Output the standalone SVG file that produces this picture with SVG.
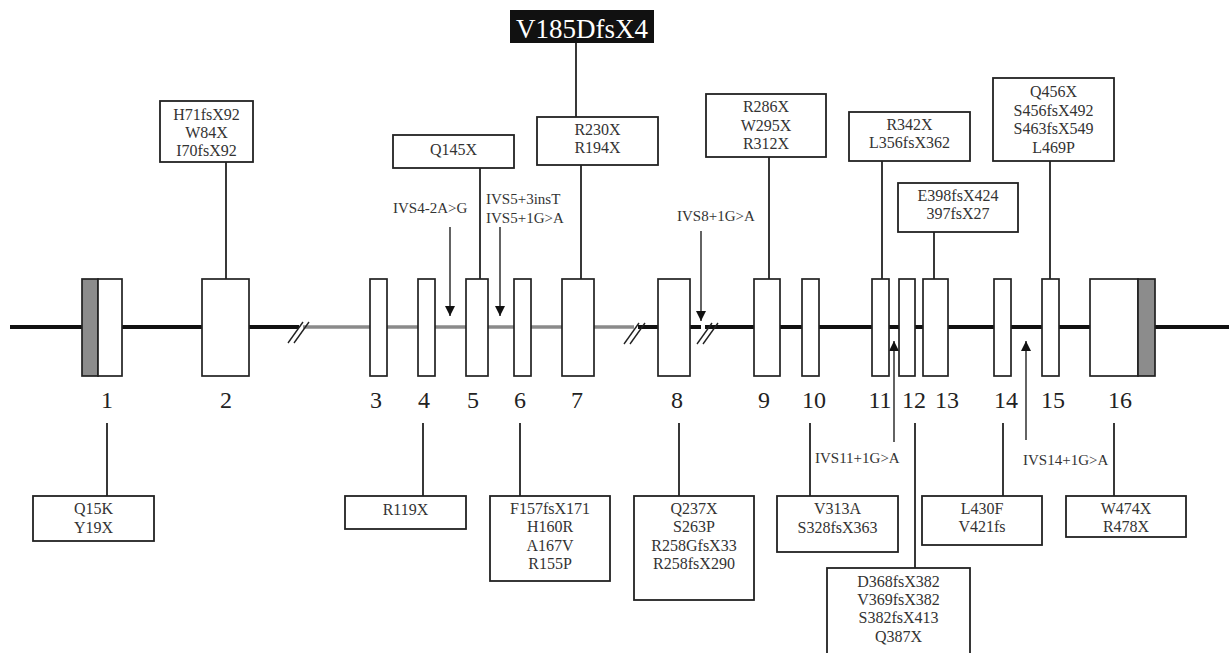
<svg xmlns="http://www.w3.org/2000/svg" width="1229" height="653" viewBox="0 0 1229 653">
<style>
.bx{fill:#fff;stroke:#222;stroke-width:1.8}
.ex{fill:#fff;stroke:#222;stroke-width:1.7}
.gr{fill:#8c8c8c;stroke:#222;stroke-width:1.7}
.cn{stroke:#222;stroke-width:1.8;fill:none}
.ar{stroke:#222;stroke-width:1.4;fill:none}
.sl{stroke:#222;stroke-width:1.4}
.t{font-family:"Liberation Serif","Times New Roman",serif;font-size:16px;fill:#333;text-anchor:middle}
.iv{font-family:"Liberation Serif","Times New Roman",serif;font-size:15px;fill:#333}
.num{font-family:"Liberation Serif","Times New Roman",serif;font-size:24px;fill:#222;text-anchor:middle}
</style>
<defs>
<marker id="ah" viewBox="0 0 10 10" refX="10" refY="5" markerWidth="10" markerHeight="10" markerUnits="userSpaceOnUse" orient="auto">
<path d="M0,0 L10,5 L0,10 z" fill="#111"/>
</marker>
</defs>
<rect width="1229" height="653" fill="#fff"/>

<g id="backbone">
<line x1="10" y1="327" x2="299" y2="327" stroke="#111" stroke-width="4"/>
<line x1="303" y1="327" x2="634" y2="327" stroke="#8a8a8a" stroke-width="3.5"/>
<line x1="638" y1="327" x2="701" y2="327" stroke="#111" stroke-width="4"/>
<line x1="705" y1="327" x2="1229" y2="327" stroke="#111" stroke-width="4"/>
<line class="sl" x1="288" y1="343" x2="303" y2="322"/>
<line class="sl" x1="294" y1="343" x2="309" y2="322"/>
<line class="sl" x1="624" y1="344" x2="639" y2="323"/>
<line class="sl" x1="630" y1="344" x2="645" y2="323"/>
<line class="sl" x1="697" y1="344" x2="712" y2="323"/>
<line class="sl" x1="703" y1="344" x2="718" y2="323"/>
</g>

<g id="connectors">
<line class="cn" x1="226" y1="162" x2="226" y2="279"/>
<line class="cn" x1="480" y1="168" x2="480" y2="279"/>
<line class="cn" x1="576" y1="43" x2="576" y2="117"/>
<line class="cn" x1="581" y1="165" x2="581" y2="279"/>
<line class="cn" x1="769" y1="157" x2="769" y2="279"/>
<line class="cn" x1="882" y1="161" x2="882" y2="279"/>
<line class="cn" x1="934" y1="232" x2="934" y2="279"/>
<line class="cn" x1="1050" y1="161" x2="1050" y2="279"/>
<line class="cn" x1="107" y1="423" x2="107" y2="496"/>
<line class="cn" x1="423" y1="423" x2="423" y2="496"/>
<line class="cn" x1="520" y1="423" x2="520" y2="496"/>
<line class="cn" x1="679" y1="423" x2="679" y2="496"/>
<line class="cn" x1="810" y1="423" x2="810" y2="496"/>
<line class="cn" x1="915" y1="423" x2="915" y2="568"/>
<line class="cn" x1="1003" y1="423" x2="1003" y2="496"/>
<line class="cn" x1="1114" y1="423" x2="1114" y2="496"/>
<line class="ar" x1="450" y1="227" x2="450" y2="316" marker-end="url(#ah)"/>
<line class="ar" x1="500" y1="227" x2="500" y2="316" marker-end="url(#ah)"/>
<line class="ar" x1="701" y1="231" x2="701" y2="321" marker-end="url(#ah)"/>
<line class="ar" x1="894" y1="442" x2="894" y2="341" marker-end="url(#ah)"/>
<line class="ar" x1="1026" y1="440" x2="1026" y2="341" marker-end="url(#ah)"/>
</g>

<g id="exons">
<g id="exon1"><rect class="gr" x="82" y="279" width="16" height="97"/><rect class="ex" x="98" y="279" width="24" height="97"/><text class="num" x="107" y="408">1</text></g>
<g id="exon2"><rect class="ex" x="202" y="279" width="47" height="97"/><text class="num" x="226" y="408">2</text></g>
<g id="exon3"><rect class="ex" x="370" y="279" width="17" height="97"/><text class="num" x="376" y="408">3</text></g>
<g id="exon4"><rect class="ex" x="418" y="279" width="17" height="97"/><text class="num" x="424" y="408">4</text></g>
<g id="exon5"><rect class="ex" x="466" y="279" width="22" height="97"/><text class="num" x="473" y="408">5</text></g>
<g id="exon6"><rect class="ex" x="514" y="279" width="17" height="97"/><text class="num" x="520" y="408">6</text></g>
<g id="exon7"><rect class="ex" x="562" y="279" width="32" height="97"/><text class="num" x="577" y="408">7</text></g>
<g id="exon8"><rect class="ex" x="658" y="279" width="32" height="97"/><text class="num" x="677" y="408">8</text></g>
<g id="exon9"><rect class="ex" x="754" y="279" width="26" height="97"/><text class="num" x="764" y="408">9</text></g>
<g id="exon10"><rect class="ex" x="802" y="279" width="17" height="97"/><text class="num" x="814" y="408">10</text></g>
<g id="exon11"><rect class="ex" x="872" y="279" width="17" height="97"/><text class="num" x="880" y="408">11</text></g>
<g id="exon12"><rect class="ex" x="899" y="279" width="16" height="97"/><text class="num" x="914" y="408">12</text></g>
<g id="exon13"><rect class="ex" x="923" y="279" width="25" height="97"/><text class="num" x="947" y="408">13</text></g>
<g id="exon14"><rect class="ex" x="994" y="279" width="17" height="97"/><text class="num" x="1006" y="408">14</text></g>
<g id="exon15"><rect class="ex" x="1042" y="279" width="17" height="97"/><text class="num" x="1053" y="408">15</text></g>
<g id="exon16"><rect class="ex" x="1090" y="279" width="48" height="97"/><rect class="gr" x="1138" y="279" width="17" height="97"/><text class="num" x="1120" y="408">16</text></g>
</g>

<g id="box-V185DfsX4"><rect x="510" y="10" width="144" height="33" fill="#111"/><text x="582" y="38" style="font-family:'Liberation Serif','Times New Roman',serif;font-size:27px;fill:#fff;text-anchor:middle">V185DfsX4</text></g>
<g id="box-H71"><rect class="bx" x="160" y="101" width="93" height="61"/><text class="t" x="206.5" y="120">H71fsX92</text><text class="t" x="206.5" y="138">W84X</text><text class="t" x="206.5" y="156">I70fsX92</text></g>
<g id="box-Q145X"><rect class="bx" x="393" y="135" width="121" height="33"/><text class="t" x="453.5" y="155">Q145X</text></g>
<g id="box-R230X"><rect class="bx" x="537" y="117" width="121" height="48"/><text class="t" x="597.5" y="135">R230X</text><text class="t" x="597.5" y="153">R194X</text></g>
<g id="box-R286X"><rect class="bx" x="706" y="94" width="120" height="63"/><text class="t" x="766" y="112">R286X</text><text class="t" x="766" y="131">W295X</text><text class="t" x="766" y="149">R312X</text></g>
<g id="box-R342X"><rect class="bx" x="849" y="112" width="121" height="49"/><text class="t" x="909.5" y="130">R342X</text><text class="t" x="909.5" y="148">L356fsX362</text></g>
<g id="box-E398"><rect class="bx" x="898" y="183" width="120" height="49"/><text class="t" x="958" y="201">E398fsX424</text><text class="t" x="958" y="219">397fsX27</text></g>
<g id="box-Q456X"><rect class="bx" x="993" y="78" width="121" height="83"/><text class="t" x="1053.5" y="97">Q456X</text><text class="t" x="1053.5" y="116">S456fsX492</text><text class="t" x="1053.5" y="134">S463fsX549</text><text class="t" x="1053.5" y="153">L469P</text></g>

<g id="box-Q15K"><rect class="bx" x="33" y="496" width="121" height="45"/><text class="t" x="93.5" y="514">Q15K</text><text class="t" x="93.5" y="533">Y19X</text></g>
<g id="box-R119X"><rect class="bx" x="345" y="496" width="121" height="33"/><text class="t" x="405.5" y="515">R119X</text></g>
<g id="box-F157"><rect class="bx" x="490" y="496" width="120" height="85"/><text class="t" x="550" y="514">F157fsX171</text><text class="t" x="550" y="532">H160R</text><text class="t" x="550" y="551">A167V</text><text class="t" x="550" y="569">R155P</text></g>
<g id="box-Q237X"><rect class="bx" x="634" y="496" width="120" height="104"/><text class="t" x="694" y="514">Q237X</text><text class="t" x="694" y="532">S263P</text><text class="t" x="694" y="551">R258GfsX33</text><text class="t" x="694" y="569">R258fsX290</text></g>
<g id="box-V313A"><rect class="bx" x="777" y="496" width="121" height="56"/><text class="t" x="837.5" y="514">V313A</text><text class="t" x="837.5" y="533">S328fsX363</text></g>
<g id="box-L430F"><rect class="bx" x="922" y="496" width="120" height="49"/><text class="t" x="982" y="514">L430F</text><text class="t" x="982" y="532">V421fs</text></g>
<g id="box-W474X"><rect class="bx" x="1066" y="496" width="120" height="41"/><text class="t" x="1126" y="514">W474X</text><text class="t" x="1126" y="532">R478X</text></g>
<g id="box-D368"><rect class="bx" x="827" y="568" width="143" height="100"/><text class="t" x="898.5" y="587">D368fsX382</text><text class="t" x="898.5" y="605">V369fsX382</text><text class="t" x="898.5" y="623">S382fsX413</text><text class="t" x="898.5" y="642">Q387X</text></g>

<g id="labels">
<text class="iv" x="393" y="213">IVS4-2A&gt;G</text>
<text class="iv" x="486" y="204">IVS5+3insT</text>
<text class="iv" x="486" y="223">IVS5+1G&gt;A</text>
<text class="iv" x="677" y="221">IVS8+1G&gt;A</text>
<text class="iv" x="815" y="463">IVS11+1G&gt;A</text>
<text class="iv" x="1023" y="465">IVS14+1G&gt;A</text>
</g>
</svg>
